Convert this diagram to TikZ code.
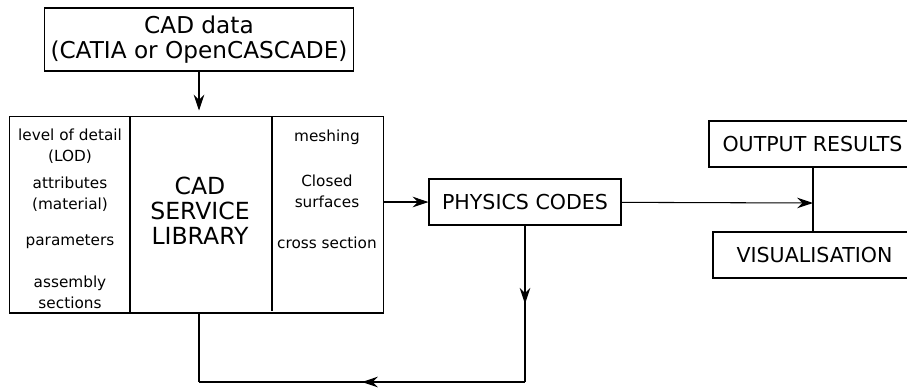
\documentclass[tikz,border=0pt]{standalone}
\usepackage{fontspec}
\setmainfont{DejaVu Sans}
\usetikzlibrary{arrows.meta,calc,positioning,decorations.markings}

\tikzset{
  box/.style={draw,line width=0.6pt,inner sep=0pt,align=center},
  line/.style={line width=0.6pt},
  tip/.style={-{Stealth[length=9pt,width=6pt]}},
  midtip/.style={postaction={decorate},decoration={markings,mark=at position #1 with {\arrow{Stealth[length=9pt,width=6pt]}}}},
  small/.style={font=\fontsize{8.7}{11.9}\selectfont,align=center,inner sep=0pt},
  big/.style={font=\fontsize{13.4}{14.2}\selectfont,align=center,inner sep=0pt},
  label/.style={font=\fontsize{11.7}{13}\selectfont},
}

\begin{document}
\begin{tikzpicture}[x=0.02cm,y=-0.02cm]
  \useasboundingbox (0,0) rectangle (907,387);

  % boxes
  \node[box,minimum width=6.2cm,minimum height=1.26cm,font=\fontsize{13.2}{14.2}\selectfont] (cad) at (199,39.5) {CAD data\\(CATIA or OpenCASCADE)};
  \node[box,minimum width=7.48cm,minimum height=3.94cm] (lib) at (196.5,214.5) {};
  \node[box,label,minimum width=3.84cm,minimum height=0.92cm] (phys) at (525,202) {PHYSICS CODES};
  \node[box,label,minimum width=4.14cm,minimum height=0.92cm] (out) at (812.5,144) {OUTPUT RESULTS};
  \node[box,label,minimum width=4.06cm,minimum height=0.92cm] (vis) at (814.5,255) {VISUALISATION};

  % columns of the library
  \draw[line] (130,116) -- (130,313);
  \draw[line] (272,116) -- (272,311);
  \node[small] (lod) at (70,146) {level of detail\\(LOD)};
  \node[small] (attr) at (70,194.5) {attributes\\(material)};
  \node[small] (par) at (70,242) {parameters};
  \node[small] (asm) at (70,292.5) {assembly\\sections};
  \node[big] (title) at (200,211) {CAD\\SERVICE\\LIBRARY};
  \node[small] (mesh) at (327,137) {meshing};
  \node[small] (closed) at (327,191) {Closed\\surfaces};
  \node[small] (cross) at (327,243) {cross section};

  % connectors
  \coordinate (join) at (813,203);
  \coordinate (c1) at (525,382);
  \coordinate (c2) at (199,382);
  \draw[line,tip] (cad) -- ($(cad |- lib.north)+(0,-5)$);
  \draw[line,tip] (lib.east |- phys.west) -- (phys.west);
  \draw[line,tip] (phys) -- (join);
  \draw[line] (out.south -| join) -- (vis.north -| join);
  \draw[line,midtip=0.5] (phys) -- (c1);
  \draw[line,midtip=0.5] (c1) -- (c2);
  \draw[line] (c2) -- (c2 |- lib.south);
\end{tikzpicture}
\end{document}
